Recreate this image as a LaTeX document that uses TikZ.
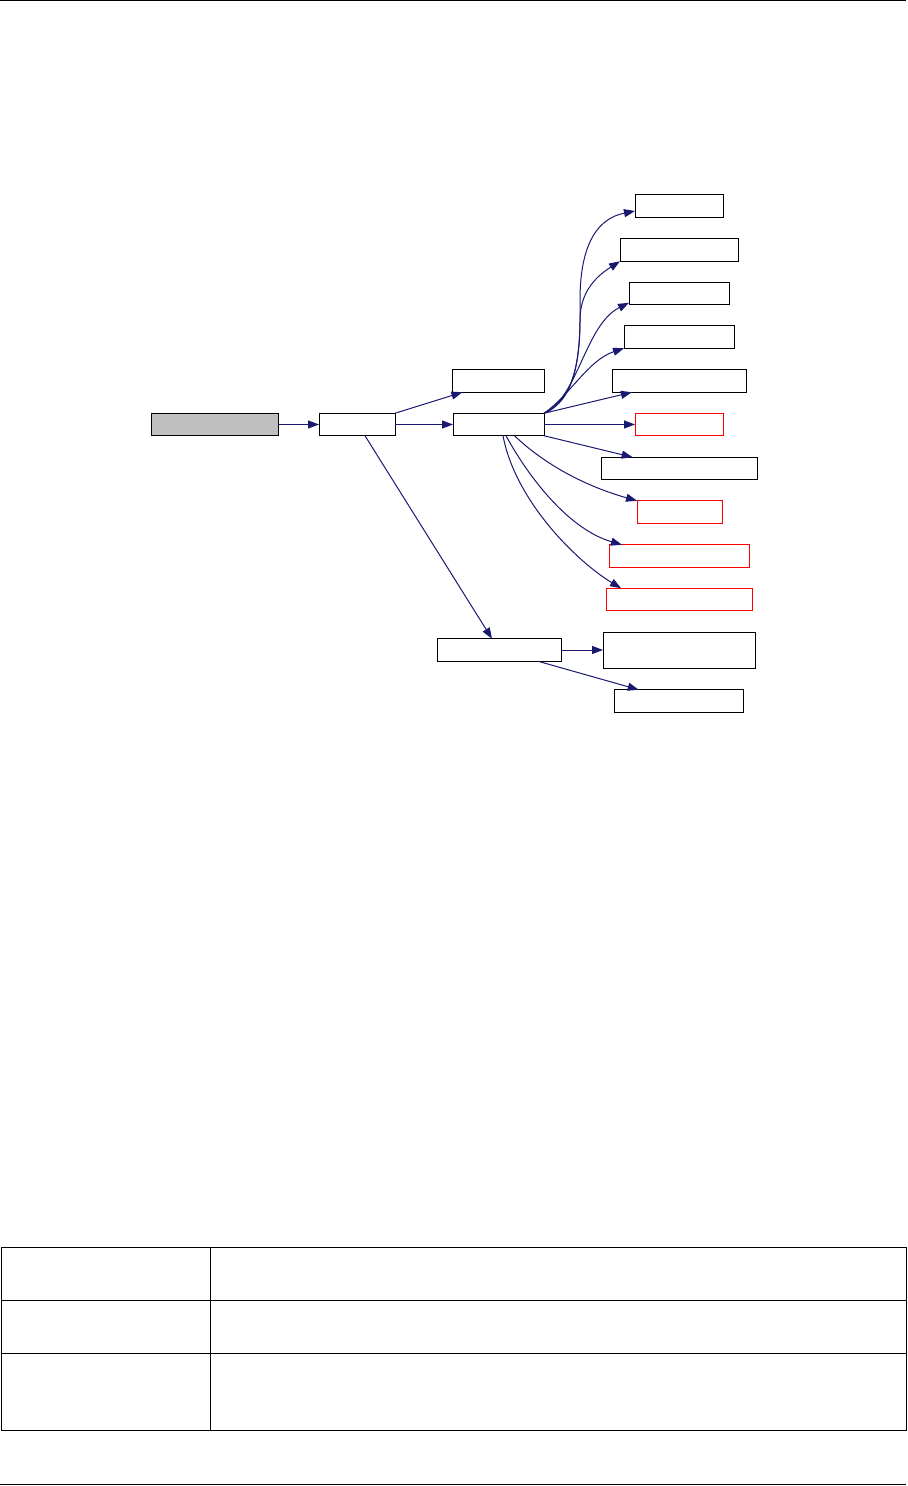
\documentclass[tikz,border=0pt]{standalone}
\usepackage{tikz}
\usetikzlibrary{positioning}
\usetikzlibrary{calc}
\usetikzlibrary{arrows.meta}

\definecolor{edgeblue}{RGB}{25,25,112}
\definecolor{nodegray}{RGB}{191,191,191}

\begin{document}
\begin{tikzpicture}[x=0.5pt, y=-0.5pt, line width=0.5pt,
    main/.style = {draw, rectangle, inner sep=0pt, outer sep=0pt, minimum height=11.25pt},
    broken/.style = {main, draw=red},
    call/.style = {->, draw=edgeblue},
    >={Triangle[length=5.5pt, width=4pt]}]
    \useasboundingbox (0,0) rectangle (908,1486);

    % page rules
    \draw (0,1) -- (906,1);
    \draw (0,1484.5) -- (906,1484.5);

    % main chain
    \node[main, fill=nodegray, minimum width=63.5pt] (start) at (214.5,424.5) {};
    \node[main, minimum width=38pt] (A) [right=20.5pt of start] {};
    \node[main, minimum width=45.5pt] (C) [right=29pt of A] {};
    \node[main, minimum width=46pt] (up) [above=10.5pt of C] {};
    \node[main, minimum width=62pt] (D) at (499,650) {};

    % callees of C
    \node[main, minimum width=44pt] (r1) at (679,206) {};
    \node[main, minimum width=59pt] (r2) at (679,250) {};
    \node[main, minimum width=50pt] (r3) at (679,293.5) {};
    \node[main, minimum width=55pt] (r4) at (679,337) {};
    \node[main, minimum width=67pt] (r5) at (679,381) {};
    \node[broken, minimum width=44pt] (r6) [right=45.5pt of C] {};
    \node[main, minimum width=78pt] (r7) at (679,468.5) {};
    \node[broken, minimum width=42.5pt] (r8) at (679.5,512) {};
    \node[broken, minimum width=70pt] (r9) at (679,556) {};
    \node[broken, minimum width=73pt] (r10) at (679,599.5) {};

    % callees of D
    \node[main, minimum width=76pt, minimum height=18pt] (E) at (679,650) {};
    \node[main, minimum width=64.5pt] (F) at (678.5,701) {};

    \draw[call] (start) -- (A);
    \draw[call] (A.north east) -- (up);
    \draw[call] (A) -- (C);
    \draw[call] ($(A.south)+(8,0)$) -- (D);

    \draw[call] (C.north east) .. controls +(31,-13) and +(1,60) .. ($(C.north east)+(36,-113)$)
        .. controls +(0,-60) and +(-35,7) .. ($(r1.west)+(0,5)$);
    \draw[call] (C.north east) .. controls +(31,-13) and +(0,35) .. ($(C.north east)+(36,-93)$)
        .. controls +(0,-30) and +(-22,14) .. (r2.south west);
    \draw[call] (C.north east) .. controls +(34,-15) and +(-44,22) .. ($(r3.south west)+(0,-2)$);
    \draw[call] (C.north east) .. controls +(26,-18) and +(-36,12) .. (r4.south west);
    \draw[call] (C.north east) -- (r5);
    \draw[call] (C) -- (r6);
    \draw[call] (C.south east) -- (r7);
    \draw[call] ($(C.south)+(16,0)$) .. controls +(41,39) and +(-32,-9) .. (r8.north west);
    \draw[call] ($(C.south)+(7.5,0)$) .. controls +(24,44) and +(-52,-15) .. ($(r9.north west)+(13,0)$);
    \draw[call] ($(C.south)+(4.5,0)$) .. controls +(12,64) and +(-46,-28) .. ($(r10.north west)+(15,0)$);

    \draw[call] (D) -- (E);
    \draw[call] ($(D.south east)+(-23,0)$) -- (F);

    % table
    \draw (1.5,1247) rectangle (906.5,1430);
    \draw (1.5,1300) -- (906.5,1300);
    \draw (1.5,1353) -- (906.5,1353);
    \draw (210,1247) -- (210,1430);
\end{tikzpicture}
\end{document}
